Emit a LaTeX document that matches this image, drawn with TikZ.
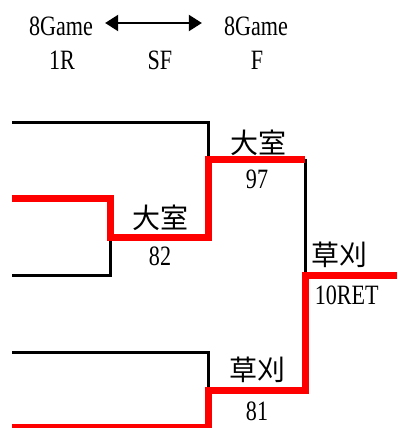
\documentclass[tikz,border=0pt]{standalone}
\usepackage{fontspec}
\setmainfont{Liberation Serif}[FakeStretch=0.79]
\newfontfamily\jpfont{Noto Sans CJK JP}
\usetikzlibrary{arrows.meta}
\tikzset{
  lose/.style={black,line width=3pt},
  win/.style={red,line width=7pt},
  lbl/.style={font=\fontsize{28}{32}\selectfont,inner sep=0pt},
  jp/.style={font=\fontsize{28}{32}\selectfont\jpfont,inner sep=0pt},
  span/.style={{Triangle[length=13pt,width=16pt]}-{Triangle[length=13pt,width=16pt]},line width=2pt}
}
\begin{document}
\begin{tikzpicture}[x=1pt,y=-1pt]
\useasboundingbox (0,0) rectangle (397,428);
% header
\node[lbl] (game1) at (61,26) {8Game};
\node[lbl] (game2) at (256,26) {8Game};
\draw[span,shorten <=12pt,shorten >=22pt] ([yshift=3pt]game1.east) -- ([yshift=3pt]game2.west);
\foreach \t/\x [count=\i] in {1R/62,SF/160,F/257} {
  \node[lbl] (round\i) at (\x,60) {\t};
}
% bracket points
\foreach \y [count=\i] in {122,198,275,352,427} {
  \coordinate (p\i) at (12,\y);
}
\coordinate (m1) at (110,237);
\coordinate (m2) at (208,159);
\coordinate (m3) at (208,390);
\coordinate (f1) at (305,159);
\coordinate (f2) at (305,390);
\coordinate (w) at (305,275);
\coordinate (e) at (397,275);
% losers
\draw[lose] (p1) -| (m2);
\draw[lose] (p3) -| (m1);
\draw[lose] (p4) -| (m3);
\draw[lose] (f1) -- (w);
% winners
\draw[win] (p2) -| (m1) -| (m2) -- (f1);
\draw[win] (p5) -| (m3) -- (f2) |- (e);
% names and scores
\foreach \t/\x/\y [count=\i] in {大室/258/142.5,大室/160.5/218,草刈/339/255,草刈/257/370} {
  \node[jp] (name\i) at (\x,\y) {\t};
}
\foreach \t/\x/\y [count=\i] in {97/257/179.5,82/160/256,10RET/346.7/295,81/257/411} {
  \node[lbl] (score\i) at (\x,\y) {\t};
}
\end{tikzpicture}
\end{document}
